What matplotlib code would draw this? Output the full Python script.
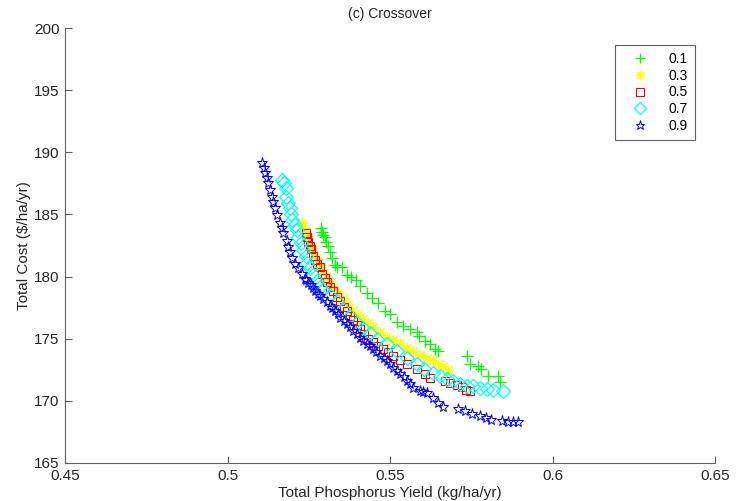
import matplotlib.pyplot as plt
from matplotlib.ticker import FixedLocator

plt.rcParams['font.family'] = ['Liberation Sans', 'DejaVu Sans']

labels = ['0.1', '0.3', '0.5', '0.7', '0.9']

# crossover rate 0.1
x01 = [0.5288, 0.5291, 0.5294, 0.5300, 0.5303, 0.5309, 0.5315, 0.5322, 0.5331, 0.5337,
       0.5352, 0.5368, 0.5380, 0.5395, 0.5408, 0.5429, 0.5445, 0.5463, 0.5485, 0.5500,
       0.5522, 0.5540, 0.5562, 0.5583, 0.5589, 0.5608, 0.5623, 0.5638, 0.5648,
       0.5737, 0.5746, 0.5771, 0.5780, 0.5802, 0.5832, 0.5840]
y01 = [183.87, 183.55, 183.31, 183.15, 182.82, 182.42, 181.94, 181.53, 180.97, 180.73,
       180.73, 180.16, 180.00, 179.76, 179.27, 178.71, 178.31, 177.90, 177.26, 177.02,
       176.37, 176.05, 175.81, 175.56, 175.24, 174.84, 174.60, 174.19, 174.03,
       173.63, 172.98, 172.82, 172.58, 172.02, 172.02, 171.53]

# crossover rate 0.3
x03 = [0.5229, 0.5232, 0.5238, 0.5245, 0.5251, 0.5257, 0.5263, 0.5272, 0.5278, 0.5288,
       0.5297, 0.5306, 0.5315, 0.5328, 0.5340, 0.5355, 0.5371, 0.5386, 0.5402, 0.5417,
       0.5432, 0.5448, 0.5469, 0.5491, 0.5509, 0.5531, 0.5552, 0.5571, 0.5592, 0.5614,
       0.5632, 0.5648, 0.5663, 0.5678]
y03 = [184.35, 184.03, 183.63, 183.23, 182.82, 182.34, 181.94, 181.53, 181.13, 180.73,
       180.32, 179.92, 179.52, 179.11, 178.71, 178.31, 177.82, 177.34, 176.94, 176.61,
       176.29, 175.97, 175.56, 175.16, 174.92, 174.68, 174.27, 174.03, 173.71, 173.47,
       173.31, 172.98, 172.82, 172.50]

# crossover rate 0.5
x05 = [0.5242, 0.5245, 0.5248, 0.5254, 0.5257, 0.5263, 0.5269, 0.5275, 0.5285, 0.5291,
       0.5300, 0.5306, 0.5315, 0.5325, 0.5337, 0.5346, 0.5358, 0.5368, 0.5377, 0.5386,
       0.5398, 0.5408, 0.5420, 0.5432, 0.5448, 0.5463, 0.5478, 0.5494, 0.5509, 0.5531,
       0.5552, 0.5583, 0.5608, 0.5623, 0.5669, 0.5685, 0.5706, 0.5722, 0.5734, 0.5746]
y05 = [183.47, 183.15, 182.82, 182.42, 182.18, 181.69, 181.37, 181.05, 180.73, 180.24,
       179.92, 179.60, 179.19, 178.87, 178.39, 178.06, 177.58, 177.26, 176.85, 176.53,
       176.13, 175.81, 175.40, 175.00, 174.76, 174.44, 174.19, 173.95, 173.63, 173.31,
       172.98, 172.58, 172.18, 171.85, 171.61, 171.45, 171.29, 171.13, 170.89, 170.81]

# crossover rate 0.7
x07 = [0.5168, 0.5174, 0.5180, 0.5180, 0.5186, 0.5192, 0.5195, 0.5198, 0.5208, 0.5214,
       0.5217, 0.5226, 0.5232, 0.5242, 0.5245, 0.5254, 0.5263, 0.5275, 0.5285, 0.5294,
       0.5315, 0.5337, 0.5355, 0.5377, 0.5398, 0.5417, 0.5438, 0.5460, 0.5491, 0.5522,
       0.5552, 0.5583, 0.5605, 0.5632, 0.5654, 0.5675, 0.5694, 0.5715, 0.5737, 0.5755,
       0.5777, 0.5798, 0.5817, 0.5848]
y07 = [187.74, 187.50, 187.10, 186.37, 185.89, 185.48, 185.00, 184.52, 184.11, 183.71,
       183.15, 182.74, 182.10, 181.69, 181.13, 180.65, 180.16, 179.68, 179.19, 178.95,
       178.55, 178.06, 177.42, 176.85, 176.29, 175.89, 175.48, 175.00, 174.60, 174.03,
       173.47, 172.98, 172.58, 172.26, 172.02, 171.77, 171.61, 171.37, 171.21, 171.21,
       171.05, 170.97, 170.89, 170.81]

# crossover rate 0.9
x09 = [0.5106, 0.5112, 0.5115, 0.5122, 0.5125, 0.5131, 0.5137, 0.5140, 0.5146, 0.5152,
       0.5162, 0.5168, 0.5171, 0.5183, 0.5186, 0.5192, 0.5198, 0.5208, 0.5217, 0.5229,
       0.5238, 0.5243, 0.5248, 0.5256, 0.5263, 0.5270, 0.5278, 0.5286, 0.5294, 0.5305,
       0.5315, 0.5323, 0.5331, 0.5339, 0.5346, 0.5357, 0.5368, 0.5377, 0.5386, 0.5397,
       0.5408, 0.5418, 0.5429, 0.5438, 0.5448, 0.5458, 0.5469, 0.5480, 0.5491, 0.5500,
       0.5509, 0.5520, 0.5531, 0.5542, 0.5552, 0.5562, 0.5571, 0.5592, 0.5603,
       0.5614, 0.5632, 0.5648, 0.5663, 0.5709, 0.5731, 0.5752, 0.5777, 0.5795, 0.5811,
       0.5845, 0.5863, 0.5878, 0.5894]
y09 = [189.11, 188.71, 188.31, 187.90, 187.50, 186.94, 186.37, 185.97, 185.48, 184.92,
       184.35, 183.87, 183.47, 182.90, 182.34, 181.94, 181.53, 181.05, 180.65, 180.24,
       179.84, 179.70, 179.52, 179.30, 179.11, 178.85, 178.63, 178.42, 178.23, 177.95,
       177.66, 177.47, 177.26, 176.98, 176.69, 176.45, 176.21, 175.93, 175.65, 175.35,
       175.08, 174.85, 174.60, 174.40, 174.19, 173.90, 173.63, 173.45, 173.23, 172.95,
       172.66, 172.40, 172.18, 171.90, 171.61, 171.33, 171.05, 170.81, 170.75,
       170.65, 170.24, 169.84, 169.52, 169.35, 169.19, 168.95, 168.79, 168.63, 168.47,
       168.39, 168.31, 168.31, 168.31]

xticks = [0.45, 0.5, 0.55, 0.6, 0.65]
xtick_labels = ['0.45', '0.5', '0.55', '0.6', '0.65']
yticks = [165, 170, 175, 180, 185, 190, 195, 200]

fig = plt.figure(figsize=(7.36, 5.01), dpi=100)
ax = fig.add_axes([65 / 736, 1 - 463 / 501, 650 / 736, 435 / 501])

asterisk = (8, 2, 0)
ax.plot(x01, y01, '+', color='#00ff00', ms=9, mew=0.9, ls='none', label=labels[0])
ax.plot(x03, y03, marker=asterisk, color='#ffff00', ms=8, mew=0.8, ls='none', label=labels[1])
ax.plot(x05, y05, 's', color='#ff0000', mfc='none', ms=6, mew=0.8, ls='none', label=labels[2])
ax.plot(x07, y07, 'D', color='#00ffff', mfc='none', ms=7, mew=0.9, ls='none', label=labels[3])
ax.plot(x09, y09, '*', color='#0000ff', mfc='none', ms=8, mew=0.7, ls='none', label=labels[4])

ax.set_xlim(0.45, 0.65)
ax.set_ylim(165, 200)
ax.xaxis.set_major_locator(FixedLocator(xticks))
ax.set_xticklabels(xtick_labels)
ax.set_yticks(yticks)

for side in ['top', 'right']:
    ax.spines[side].set_visible(False)
for side in ['left', 'bottom']:
    ax.spines[side].set_color('#606060')
    ax.spines[side].set_linewidth(0.8)
ax.tick_params(direction='in', length=5, width=0.8, color='#606060',
               labelsize=11, labelcolor='#262626', pad=4)

ax.set_title('(c) Crossover', fontsize=10, color='#262626', pad=7)
ax.set_xlabel('Total Phosphorus Yield (kg/ha/yr)', fontsize=11, color='#262626', labelpad=2.5)
ax.set_ylabel('Total Cost (\\$/ha/yr)', fontsize=11, color='#262626', labelpad=2)

leg = ax.legend(loc='upper right', bbox_to_anchor=(0.969, 0.961), fancybox=False,
                edgecolor='#606060', fontsize=10, handlelength=2.6, handletextpad=0.75,
                labelspacing=0.2, borderpad=0.5, borderaxespad=0, framealpha=1,
                markerscale=0.85)
leg.get_frame().set_linewidth(0.8)

fig.savefig('out.png', dpi=100)
